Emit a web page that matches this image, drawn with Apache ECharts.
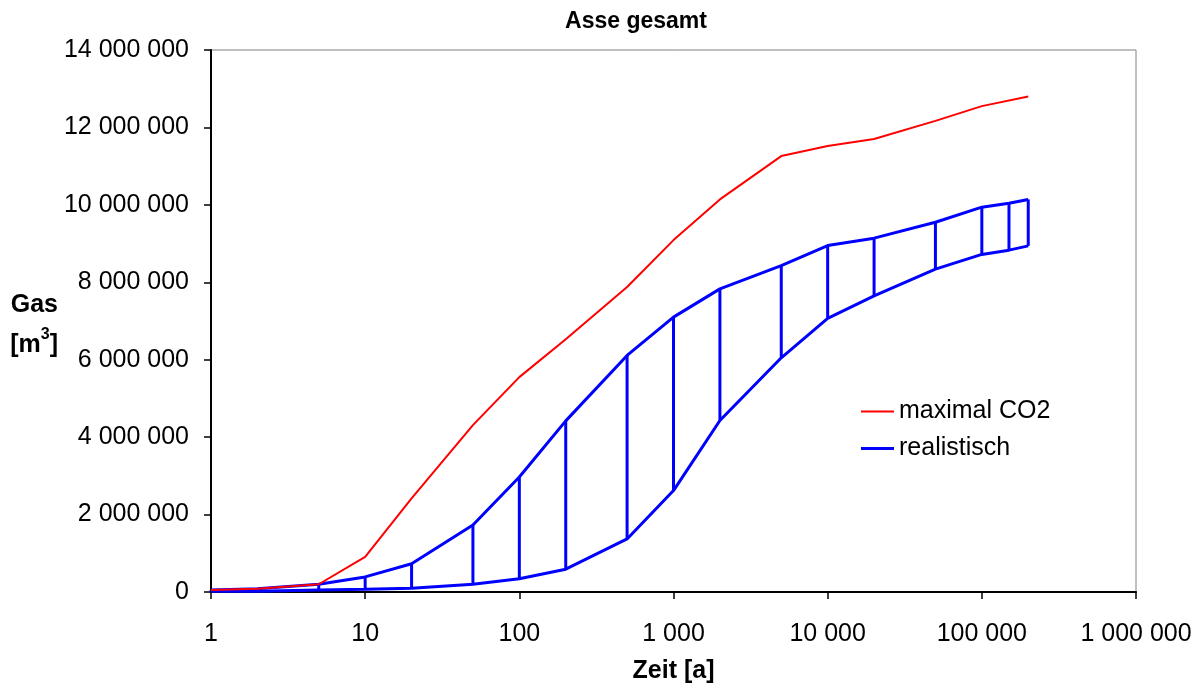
<!DOCTYPE html>
<html>
<head>
<meta charset="utf-8">
<script src="https://cdn.jsdelivr.net/npm/echarts@6/dist/echarts.min.js"></script>
<style>html,body{margin:0;padding:0;background:#fff}#c{width:1204px;height:684px}</style>
</head>
<body>
<div id="c"></div>
<script>
const timesMax = [1, 2, 5, 10, 20, 50, 100, 200, 500, 1000, 2000, 5000, 10000, 20000, 50000, 100000, 200000];
const maxCO2 = [50000, 85000, 200000, 910000, 2420000, 4310000, 5550000, 6530000, 7880000, 9090000, 10140000, 11260000, 11520000, 11700000, 12170000, 12550000, 12800000];
const timesReal = [1, 2, 5, 10, 20, 50, 100, 200, 500, 1000, 2000, 5000, 10000, 20000, 50000, 100000, 150000, 200000];
const realHigh = [50000, 85000, 200000, 390000, 730000, 1730000, 2970000, 4420000, 6110000, 7100000, 7830000, 8430000, 8950000, 9140000, 9550000, 9940000, 10040000, 10140000];
const realLow = [20000, 20000, 50000, 70000, 100000, 200000, 340000, 590000, 1370000, 2620000, 4430000, 6050000, 7070000, 7650000, 8340000, 8720000, 8830000, 8940000];
const yTicks = [0, 2000000, 4000000, 6000000, 8000000, 10000000, 12000000, 14000000];

const fmt = v => String(Math.round(v)).replace(/\B(?=(\d{3})+(?!\d))/g, ' ');
const pairs = (xs, ys) => xs.map((x, i) => [x, ys[i]]);
const FONT = 'Liberation Sans, Arial, sans-serif';

const chart = echarts.init(document.getElementById('c'), null, {renderer: 'canvas'});
const BLUE = '#0000ff', RED = '#ff0000';
chart.setOption({
  animation: false,
  backgroundColor: '#fff',
  title: {
    text: 'Asse gesamt', left: 631, top: 5, textAlign: 'center',
    textStyle: {fontFamily: FONT, fontWeight: 'bold', fontSize: 23, color: '#000'}
  },
  grid: {left: 211, right: 68, top: 50, bottom: 92, containLabel: false, outerBoundsMode: 'none',
    show: true, borderColor: '#808080', borderWidth: 1, backgroundColor: 'transparent'},
  legend: [
    {left: 861, top: 399, itemWidth: 33, itemHeight: 2, icon: 'rect', padding: 0,
     data: [{name: 'maximal CO2', itemStyle: {color: RED}}],
     textStyle: {fontFamily: FONT, fontSize: 25, color: '#000'}},
    {left: 861, top: 436, itemWidth: 33, itemHeight: 3, icon: 'rect', padding: 0,
     data: [{name: 'realistisch', itemStyle: {color: BLUE}}],
     textStyle: {fontFamily: FONT, fontSize: 25, color: '#000'}}
  ],
  xAxis: {
    type: 'log', logBase: 10, min: 1, max: 1000000,
    name: 'Zeit [a]', nameLocation: 'middle', nameGap: 67,
    nameTextStyle: {fontFamily: FONT, fontWeight: 'bold', fontSize: 25, color: '#000'},
    axisLine: {show: true, onZero: false, lineStyle: {color: '#000', width: 2}},
    axisTick: {show: true, inside: false, length: 7, lineStyle: {color: '#000', width: 1.5}},
    minorTick: {show: false},
    splitLine: {show: false},
    axisLabel: {margin: 30, formatter: v => fmt(v), fontFamily: FONT, fontSize: 25, color: '#000'}
  },
  yAxis: {
    type: 'value', min: 0, max: 14000000, interval: 2000000,
    name: 'Gas\n[m{sup|3}]', nameLocation: 'middle', nameRotate: 0, nameGap: 149,
    nameTextStyle: {fontFamily: FONT, fontWeight: 'bold', fontSize: 25, color: '#000', lineHeight: 40, align: 'right', padding: [8, 0, 0, 0],
      rich: {sup: {fontFamily: FONT, fontWeight: 'bold', fontSize: 16, color: '#000', verticalAlign: 'top', lineHeight: 40, padding: [2, 0, 0, 0]}}},
    axisLine: {show: true, lineStyle: {color: '#000', width: 2}},
    axisTick: {show: true, inside: false, length: 7, lineStyle: {color: '#000', width: 1.5}},
    splitLine: {show: false},
    axisLabel: {margin: 22, formatter: v => fmt(v), fontFamily: FONT, fontSize: 25, color: '#000'}
  },
  series: [
    {name: 'maximal CO2', type: 'line', data: pairs(timesMax, maxCO2), showSymbol: false, symbol: 'none',
     lineStyle: {color: RED, width: 2}, itemStyle: {color: RED}, z: 3},
    {name: 'realistisch-bars', type: 'custom', z: 2,
     data: timesReal.map((x, i) => [x, realLow[i], realHigh[i]]),
     renderItem: (params, api) => {
       const p1 = api.coord([api.value(0), api.value(1)]);
       const p2 = api.coord([api.value(0), api.value(2)]);
       return {type: 'line', shape: {x1: p1[0], y1: p1[1], x2: p2[0], y2: p2[1]}, style: {stroke: BLUE, lineWidth: 3}};
     }},
    {name: 'realistisch', type: 'line', data: pairs(timesReal, realHigh), showSymbol: false, symbol: 'none',
     lineStyle: {color: BLUE, width: 3}, itemStyle: {color: BLUE}, z: 2},
    {name: 'realistisch-low', type: 'line', data: pairs(timesReal, realLow), showSymbol: false, symbol: 'none',
     lineStyle: {color: BLUE, width: 3}, itemStyle: {color: BLUE}, z: 2}
  ]
});
</script>
</body>
</html>
